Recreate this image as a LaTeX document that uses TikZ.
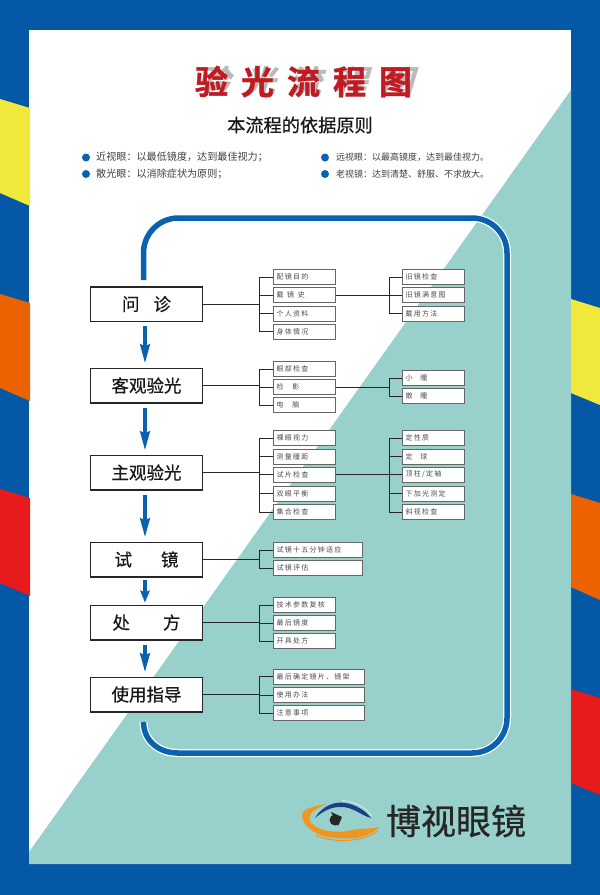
\documentclass[tikz,border=0pt]{standalone}
\usepackage{fontspec}
\setmainfont{Noto Sans CJK SC}
\newfontfamily\subf[LetterSpace=18]{Noto Sans CJK SC}
\newfontfamily\medf[FakeBold=0.6]{Noto Sans CJK SC}
\newfontfamily\heavyf[FakeBold=1.2]{Noto Sans CJK SC Bold}
\usetikzlibrary{arrows.meta}
\definecolor{bgblue}{HTML}{0458A6}
\definecolor{frameblue}{HTML}{0A62AE}
\definecolor{tealbg}{HTML}{98D0CC}
\definecolor{ylw}{HTML}{F0E93C}
\definecolor{org}{HTML}{EC6100}
\definecolor{rd}{HTML}{E71A1C}
\definecolor{titlered}{HTML}{C21A22}
\definecolor{logoorange}{HTML}{F0951E}
\definecolor{logonavy}{HTML}{1C3F8C}
\tikzset{
  mainbox/.style={draw=black!85,line width=1.5pt,fill=white,minimum width=112pt,minimum height=34.5pt,inner sep=0pt,font=\medf\fontsize{17.5pt}{20pt}\selectfont,text=black!90},
  subbox/.style={draw=black!60,line width=1pt,fill=white,anchor=west,inner xsep=3pt,inner ysep=0pt,minimum height=15pt,text width=55.5pt,align=left,font=\subf\fontsize{7pt}{9pt}\selectfont,text=black!70},
  widebox/.style={subbox,text width=82.7pt},
  widerbox/.style={subbox,text width=85pt},
  link/.style={draw=black!85,line width=1pt},
  flow/.style={draw=frameblue,line width=4pt,-{Stealth[length=19pt,width=9.5pt,inset=2pt]}},
  bullet/.style={circle,fill=frameblue,inner sep=0pt,minimum size=8pt},
  note/.style={anchor=west,inner sep=0pt,text=black!75},
}
\newcommand\linkto[3]{%
  \coordinate (hub) at (#2,0);
  \draw[link] (#1.east) -- (hub |- #1.east);
  \foreach \tgt in {#3} {\draw[link] (hub |- #1.east) -- (hub |- \tgt.west) -- (\tgt.west);}
}
\newcommand\flowarrow[2]{\draw[flow,shorten <=4pt,shorten >=4pt] ([xshift=-1.5pt]#1.south) -- ([xshift=-1.5pt]#2.north);}
\begin{document}
\begin{tikzpicture}[x=1pt,y=-1pt]
\useasboundingbox (0,0) rectangle (600,895);
% background
\fill[bgblue] (0,0) rectangle (600,895);
\fill[white] (29,30) rectangle (571,864);
\fill[tealbg] (571,90) -- (29,852) -- (29,864) -- (571,864) -- cycle;
% stripes
\fill[ylw] (0,99) -- (30,108) -- (30,206) -- (0,193) -- cycle;
\fill[org] (0,294) -- (30,303) -- (30,401) -- (0,388) -- cycle;
\fill[rd] (0,489) -- (30,498) -- (30,596) -- (0,583) -- cycle;
\fill[ylw] (571,299) -- (600,308) -- (600,405) -- (571,393) -- cycle;
\fill[org] (571,494) -- (600,503) -- (600,600) -- (571,587) -- cycle;
\fill[rd] (571,689) -- (600,698) -- (600,795) -- (571,783) -- cycle;
% title
\begin{scope}[shift={(308,81.5)},xslant=0.3]
\node[transform shape,text=black!27,font=\heavyf\fontsize{33pt}{36pt}\selectfont,inner sep=0pt] (titleshadow) at (0,0) {验\hspace{13pt}光\hspace{13pt}流\hspace{13pt}程\hspace{13pt}图};
\end{scope}
\node[text=titlered,font=\heavyf\fontsize{33pt}{36pt}\selectfont,inner sep=0pt] (title) at (303.5,81.5) {验\hspace{13pt}光\hspace{13pt}流\hspace{13pt}程\hspace{13pt}图};
\node[font=\medf\fontsize{18.2pt}{20pt}\selectfont,inner sep=0pt,text=black!90] (subtitle) at (300,125) {本流程的依据原则};
% notes
\node[bullet] (b1) at (86,157.5) {};
\node[bullet] (b2) at (86,174) {};
\node[bullet] (b3) at (325,157.5) {};
\node[bullet] (b4) at (325,174) {};
\node[note,font=\fontsize{10.1pt}{12pt}\selectfont] (n1) at (96,157.5) {近视眼：以最低镜度，达到最佳视力；};
\node[note,font=\fontsize{10.1pt}{12pt}\selectfont] (n2) at (96,174) {散光眼：以消除症状为原则；};
\node[note,font=\fontsize{9pt}{12pt}\selectfont] (n3) at (336,157.5) {远视眼：以最高镜度，达到最佳视力。};
\node[note,font=\fontsize{9pt}{12pt}\selectfont] (n4) at (336,174) {老视镜：达到清楚、舒服、不求放大。};
% frame
\draw[white,line width=8pt,rounded corners=35pt] (143.5,280) -- (143.5,218) -- (507,218) -- (507,753) -- (177,753);
\draw[white,line width=8pt] (143.5,722) .. controls (143.5,740) and (158,753) .. (178,753);
\draw[frameblue,line width=5.5pt,rounded corners=35pt] (143.5,280) -- (143.5,218) -- (507,218) -- (507,753) -- (177,753);
\draw[frameblue,line width=5.5pt] (143.5,722) .. controls (143.5,740) and (158,753) .. (178,753);
% main boxes
\node[mainbox] (m1) at (146.5,304) {问\hspace{14pt}诊};
\node[mainbox] (m2) at (146.5,385.5) {客观验光};
\node[mainbox] (m3) at (146.5,472.5) {主观验光};
\node[mainbox] (m4) at (146.5,559.5) {试\hspace{29pt}镜};
\node[mainbox] (m5) at (146.5,622.5) {处\hspace{33pt}方};
\node[mainbox] (m6) at (146.5,694.5) {使用指导};
% flow arrows
\flowarrow{m1}{m2}
\flowarrow{m2}{m3}
\flowarrow{m3}{m4}
\draw[frameblue,line width=4pt,-{Stealth[length=12pt,width=9.5pt,inset=2pt]},shorten <=2pt,shorten >=2pt] ([xshift=-1.5pt]m4.south) -- ([xshift=-1.5pt]m5.north);
\flowarrow{m5}{m6}
% first level boxes
\node[subbox] (a1) at (273,277) {配镜目的};
\node[subbox] (a2) at (273,295) {戴\hspace{3.7pt}镜\hspace{3.7pt}史};
\node[subbox] (a3) at (273,313.5) {个人资料};
\node[subbox] (a4) at (273,331.5) {身体情况};
\node[subbox] (b1x) at (273,369) {眼部检查};
\node[subbox] (b2x) at (273,387) {检\hspace{9pt}影};
\node[subbox] (b3x) at (273,405) {电\hspace{9pt}脑};
\node[subbox] (c1) at (273,438) {裸眼视力};
\node[subbox] (c2) at (273,456.5) {测量瞳距};
\node[subbox] (c3) at (273,474.5) {试片检查};
\node[subbox] (c4) at (273,493.5) {双眼平衡};
\node[subbox] (c5) at (273,512) {集合检查};
\node[widebox] (d1) at (273,550) {试镜十五分钟适应};
\node[widebox] (d2) at (273,568) {试镜评估};
\node[subbox] (e1) at (273,605) {技术参数复核};
\node[subbox] (e2) at (273,623) {最后镜度};
\node[subbox] (e3) at (273,641) {开具处方};
\node[widerbox] (f1) at (273,676.5) {最后确定镜片、镜架};
\node[widerbox] (f2) at (273,695) {使用办法};
\node[widerbox] (f3) at (273,713) {注意事项};
% second level boxes
\node[subbox] (g1) at (402,277) {旧镜检查};
\node[subbox] (g2) at (402,295) {旧镜满意图};
\node[subbox] (g3) at (402,313.5) {戴用方法};
\node[subbox] (h1) at (402,378) {小\hspace{8pt}瞳};
\node[subbox] (h2) at (402,396) {散\hspace{8pt}瞳};
\node[subbox] (k1) at (402,438) {定性质};
\node[subbox] (k2) at (402,456.5) {定\hspace{8pt}球};
\node[subbox] (k3) at (402,474.5) {顶柱/定轴};
\node[subbox] (k4) at (402,493.5) {下加光测定};
\node[subbox] (k5) at (402,512) {斜视检查};
% connectors
\linkto{m1}{259}{a1,a2,a3,a4}
\linkto{m2}{259}{b1x,b2x,b3x}
\linkto{m3}{259}{c1,c2,c3,c4,c5}
\linkto{m4}{259}{d1,d2}
\linkto{m5}{259}{e1,e2,e3}
\linkto{m6}{259}{f1,f2,f3}
\linkto{a2}{389}{g1,g2,g3}
\linkto{b2x}{389}{h1,h2}
\linkto{c3}{389}{k1,k2,k3,k4,k5}
% logo
\fill[black!85] (335,820) circle (5.5pt);
\fill[black!85] (331,812) -- (342,817) -- (338,826) -- cycle;
\fill[logoorange] (327,804) .. controls (312,806) and (301,810) .. (302,816) .. controls (303,828) and (320,838) .. (338,838) .. controls (355,840) and (370,836) .. (380,827) .. controls (372,829) and (362,828) .. (352,830) .. controls (338,834) and (315,831) .. (310,821) .. controls (307,813) and (318,807) .. (327,804) -- cycle;
\draw[logoorange,line width=1pt] (316,835) .. controls (332,843) and (360,843) .. (378,831);
\draw[white!50!tealbg,line width=1pt] (342,800.5) .. controls (355,801) and (366,808) .. (372,816);
\fill[logonavy] (315,818) .. controls (322,806) and (335,801) .. (345,803) .. controls (355,804) and (366,811) .. (371,818) .. controls (362,816) and (352,806) .. (340,807) .. controls (330,807) and (322,812) .. (315,818) -- cycle;
\node[font=\medf\fontsize{35pt}{37pt}\selectfont,inner sep=0pt,text=black!85] (brand) at (456,821) {博视眼镜};
\end{tikzpicture}
\end{document}
